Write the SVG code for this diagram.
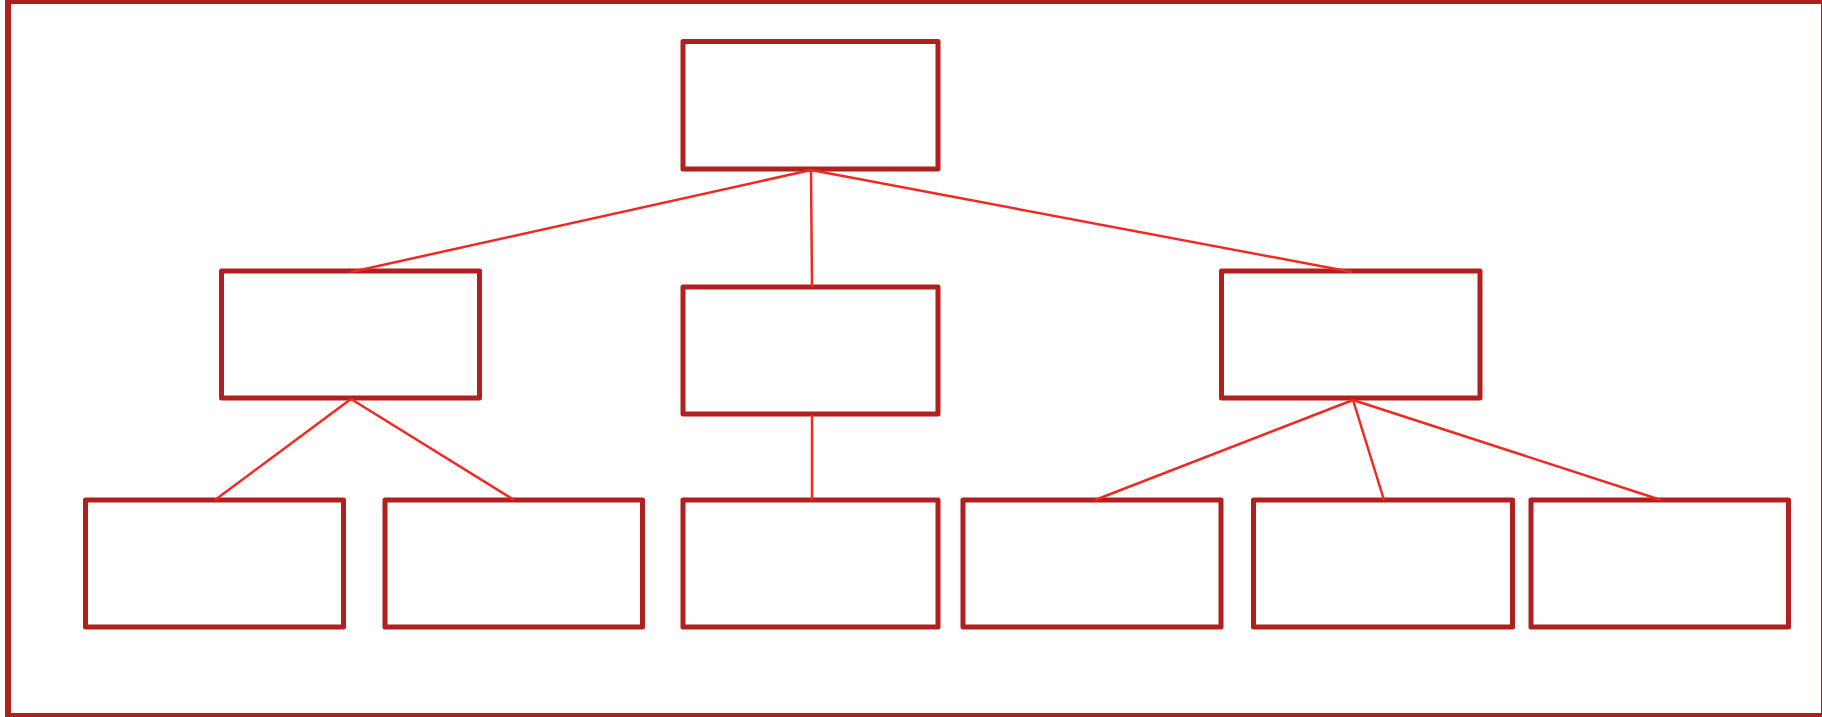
<svg xmlns="http://www.w3.org/2000/svg" width="1822" height="717" viewBox="0 0 1822 717">
<style>
.frame{fill:none;stroke:#b0201e;stroke-width:6}
.node rect{fill:#ffffff;stroke:#b0201e;stroke-width:5;stroke-linejoin:round}
.conn line{stroke:#ee2a22;stroke-width:2.5;stroke-linecap:butt}
</style>
<rect width="1822" height="717" fill="#ffffff"/>
<rect class="frame" x="8" y="1" width="1816" height="715"/>
<g id="node-root" class="node"><rect x="683" y="41.5" width="255" height="127.5"/></g>
<g id="node-mid-left" class="node"><rect x="221.5" y="271" width="258" height="127"/></g>
<g id="node-mid-center" class="node"><rect x="683" y="287" width="255" height="127"/></g>
<g id="node-mid-right" class="node"><rect x="1221.5" y="271" width="258.5" height="127"/></g>
<g id="node-leaf-1" class="node"><rect x="85.5" y="500" width="258" height="127"/></g>
<g id="node-leaf-2" class="node"><rect x="385" y="500" width="257.5" height="127"/></g>
<g id="node-leaf-3" class="node"><rect x="683" y="500" width="255" height="127"/></g>
<g id="node-leaf-4" class="node"><rect x="963" y="500" width="258" height="127"/></g>
<g id="node-leaf-5" class="node"><rect x="1253.5" y="500" width="259" height="127"/></g>
<g id="node-leaf-6" class="node"><rect x="1531" y="500" width="257.5" height="127"/></g>
<g id="connectors" class="conn">
<line x1="811" y1="170" x2="351" y2="272"/>
<line x1="811" y1="170" x2="812" y2="287"/>
<line x1="811" y1="170" x2="1352" y2="272"/>
<line x1="812" y1="415" x2="812" y2="500"/>
<line x1="351" y1="399" x2="215" y2="500"/>
<line x1="351" y1="399" x2="514" y2="500"/>
<line x1="1353" y1="400" x2="1095" y2="500"/>
<line x1="1353" y1="400" x2="1384" y2="500"/>
<line x1="1353" y1="400" x2="1661" y2="500"/>
</g>
</svg>
